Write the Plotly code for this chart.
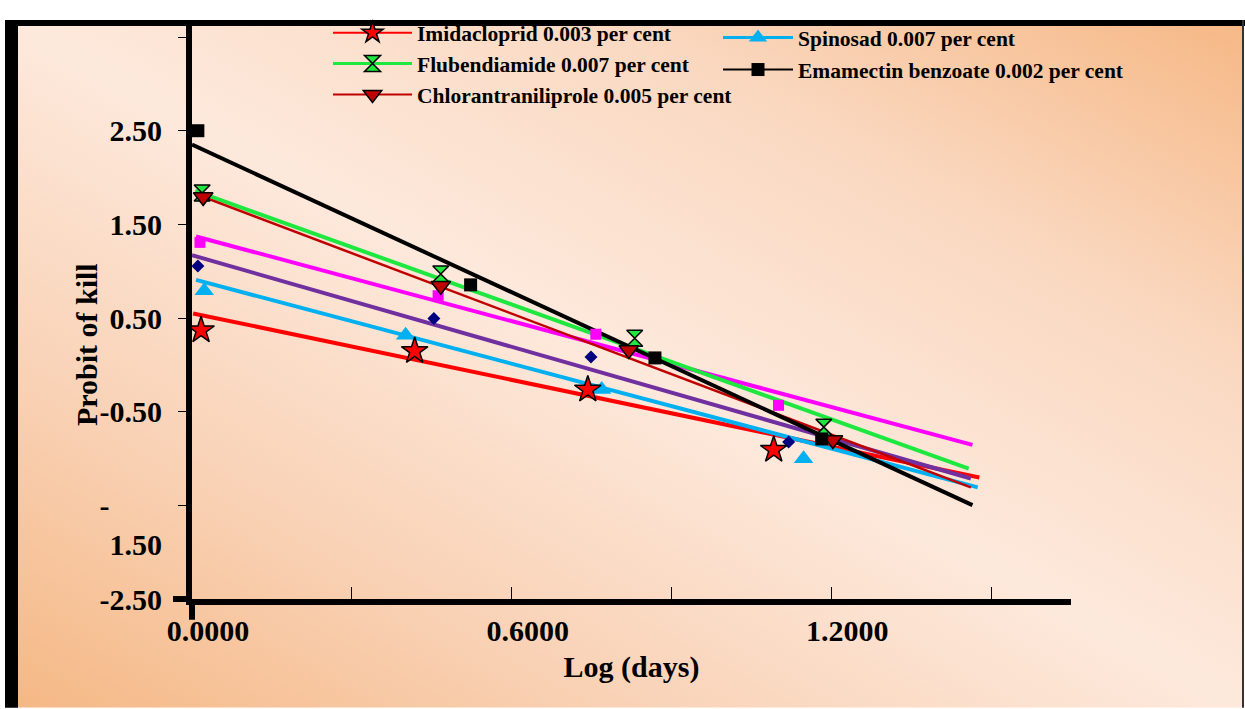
import base64
import plotly.graph_objects as go

# ---------------- data ----------------
imid_x = [0.017, 0.418, 0.743, 1.092]
imid_y = [0.369, 0.148, -0.264, -0.907]
flub_x = [0.019, 0.467, 0.831, 1.186]
flub_y = [1.835, 0.970, 0.285, -0.665]
chlor_x = [0.021, 0.467, 0.820, 1.203]
chlor_y = [1.793, 0.844, 0.158, -0.802]
spin_x = [0.023, 0.401, 0.769, 1.148]
spin_y = [0.791, 0.316, -0.264, -1.002]
emam_x = [0.011, 0.523, 0.869, 1.182]
emam_y = [2.500, 0.854, 0.074, -0.791]
mag_x = [0.015, 0.462, 0.758, 1.101]
mag_y = [1.308, 0.738, 0.327, -0.432]
navy_x = [0.011, 0.454, 0.749, 1.120]
navy_y = [1.055, 0.496, 0.084, -0.823]

# fitted (trend) lines: start and end points
fit_red_x = [0.002, 1.478];   fit_red_y = [0.549, -1.203]
fit_blue_x = [0.0075, 1.475]; fit_blue_y = [0.907, -1.308]
fit_purple_x = [0.0, 1.462];  fit_purple_y = [1.171, -1.213]
fit_mag_x = [0.0075, 1.465];  fit_mag_y = [1.371, -0.854]
fit_green_x = [0.006, 1.458]; fit_green_y = [1.857, -1.108]
fit_dred_x = [0.006, 1.462];  fit_dred_y = [1.825, -1.308]
fit_black_x = [0.0, 1.465];   fit_black_y = [2.352, -1.498]

y_tickvals = [3.5, 2.5, 1.5, 0.5, -0.5, -1.5, -2.5]
y_ticktext = ["", "2.50", "1.50", "0.50", "-0.50",
              "\u00a0<br>-" + "\u00a0" * 7 + "<br>1.50", "-2.50"]
x_tickvals = [0.0, 0.3, 0.6, 0.9, 1.2, 1.5]
x_ticktext = ["0.0000", "", "0.6000", "", "1.2000", ""]

# ---------------- colours ----------------
RED = "#ff0000"
GREEN = "#1ee840"
DRED = "#c00000"
BLUE = "#00b0f0"
MAG = "#ff00ff"
PURPLE = "#7030a0"
NAVY = "#000080"
BLACK = "#000000"

FONT = "Liberation Serif, Times New Roman, serif"

W, H = 1245, 709
L, R, T, B = 192, 174, 19, 110
PW, PH = W - L - R, H - T - B


def px_x(px):
    return (px - L) / PW


def px_y(py):
    return (H - B - py) / PH


fig = go.Figure()

# trend lines
for xs, ys, c, w in [
    (fit_red_x, fit_red_y, RED, 4),
    (fit_blue_x, fit_blue_y, BLUE, 4),
    (fit_purple_x, fit_purple_y, PURPLE, 4),
    (fit_mag_x, fit_mag_y, MAG, 4),
    (fit_green_x, fit_green_y, GREEN, 4),
    (fit_dred_x, fit_dred_y, DRED, 2.5),
    (fit_black_x, fit_black_y, BLACK, 4),
]:
    fig.add_trace(go.Scatter(x=xs, y=ys, mode="lines", line=dict(color=c, width=w),
                             showlegend=False, hoverinfo="skip"))

# observation markers (no legend)
obs = [
    ("Series 6", mag_x, mag_y, dict(symbol="square", color=MAG, size=11)),
    ("Series 7", navy_x, navy_y, dict(symbol="diamond", color=NAVY, size=10)),
    ("Spinosad 0.007 per cent", spin_x, spin_y, dict(symbol="triangle-up", color=BLUE, size=17)),
    ("Imidacloprid 0.003 per cent", imid_x, imid_y,
     dict(symbol="star", color=RED, size=20, line=dict(color=BLACK, width=1.5))),
    ("Flubendiamide 0.007 per cent", flub_x, flub_y,
     dict(symbol="hourglass", color=GREEN, size=16, line=dict(color=BLACK, width=1.5))),
    ("Chlorantraniliprole 0.005 per cent", chlor_x, chlor_y,
     dict(symbol="triangle-down", color=DRED, size=17, line=dict(color=BLACK, width=1.5))),
    ("Emamectin benzoate 0.002 per cent", emam_x, emam_y, dict(symbol="square", color=BLACK, size=13)),
]
for name, xs, ys, mk in obs:
    fig.add_trace(go.Scatter(x=xs, y=ys, mode="markers", marker=mk, name=name, showlegend=False))

# legend entries
leg1 = [
    ("Imidacloprid 0.003 per cent", RED, 2,
     dict(symbol="star", color=RED, size=20, line=dict(color=BLACK, width=1.5))),
    ("Flubendiamide 0.007 per cent", GREEN, 3,
     dict(symbol="hourglass", color=GREEN, size=16, line=dict(color=BLACK, width=1.5))),
    ("Chlorantraniliprole 0.005 per cent", DRED, 2,
     dict(symbol="triangle-down", color=DRED, size=17, line=dict(color=BLACK, width=1.5))),
]
leg2 = [
    ("Spinosad 0.007 per cent", BLUE, 3, dict(symbol="triangle-up", color=BLUE, size=17)),
    ("Emamectin benzoate 0.002 per cent", BLACK, 2, dict(symbol="square", color=BLACK, size=13)),
]
for i, (name, c, w, mk) in enumerate(leg1):
    fig.add_trace(go.Scatter(x=[None], y=[None], mode="lines+markers", name=name,
                             line=dict(color=c, width=w), marker=mk, legend="legend",
                             legendgroup="a%d" % i))
for i, (name, c, w, mk) in enumerate(leg2):
    fig.add_trace(go.Scatter(x=[None], y=[None], mode="lines+markers", name=name,
                             line=dict(color=c, width=w), marker=mk, legend="legend2",
                             legendgroup="b%d" % i))

# background gradient
svg = ('<svg xmlns="http://www.w3.org/2000/svg" width="100" height="100" viewBox="0 0 100 100" '
       'preserveAspectRatio="none"><defs><linearGradient id="g" x1="0" y1="1" x2="1" y2="0">'
       '<stop offset="0" stop-color="#f5b885"/>'
       '<stop offset="0.25" stop-color="#f9d2b6"/>'
       '<stop offset="0.5" stop-color="#fde9dc"/>'
       '<stop offset="0.75" stop-color="#fad8c0"/>'
       '<stop offset="1" stop-color="#f6b886"/>'
       '</linearGradient></defs><rect x="0" y="0" width="100" height="100" fill="url(#g)"/></svg>')
src = "data:image/svg+xml;base64," + base64.b64encode(svg.encode()).decode()

fig.add_layout_image(dict(source=src, xref="paper", yref="paper",
                          x=px_x(18), y=px_y(19), sizex=(1243 - 18) / PW, sizey=(H - 19) / PH,
                          xanchor="left", yanchor="top", sizing="stretch", layer="below"))

shapes = [
    # frame
    dict(type="rect", xref="paper", yref="paper", x0=px_x(5), x1=px_x(1245), y0=px_y(19), y1=px_y(13),
         fillcolor="black", line=dict(width=0)),
    dict(type="rect", xref="paper", yref="paper", x0=px_x(5), x1=px_x(18), y0=px_y(709), y1=px_y(13),
         fillcolor="black", line=dict(width=0)),
    dict(type="rect", xref="paper", yref="paper", x0=px_x(1242), x1=px_x(1244), y0=px_y(709), y1=px_y(13),
         fillcolor="#333333", line=dict(width=0)),
    # axis overhangs
    dict(type="line", xref="paper", yref="paper", x0=px_x(173), x1=0, y0=0, y1=0,
         line=dict(color="black", width=6)),
    dict(type="line", xref="paper", yref="paper", x0=0, x1=0, y0=0, y1=px_y(620),
         line=dict(color="black", width=6)),
]

fig.update_layout(
    width=W, height=H,
    margin=dict(l=L, r=R, t=T, b=B),
    paper_bgcolor="white",
    plot_bgcolor="rgba(0,0,0,0)",
    font=dict(family=FONT, color="black"),
    shapes=shapes,
    xaxis=dict(range=[0, 1.65], showgrid=False, zeroline=False, showline=True, linecolor="black",
               linewidth=6, ticks="inside", ticklen=12, tickwidth=1, tickcolor="black",
               tickvals=x_tickvals, ticktext=x_ticktext, ticklabelshift=16,
               tickfont=dict(family=FONT, size=30, weight="bold"),
               title=dict(text="Log (days)", font=dict(family=FONT, size=30, weight="bold"), standoff=12)),
    yaxis=dict(range=[-2.5, -2.5 + PH / 94.8], showgrid=False, zeroline=False, showline=True,
               linecolor="black", linewidth=6, ticks="outside", ticklen=8, tickwidth=1,
               tickcolor="black", tickvals=y_tickvals, ticktext=y_ticktext,
               ticklabelstandoff=10,
               tickfont=dict(family=FONT, size=30, weight="bold")),
    annotations=[dict(text="Probit of kill", xref="paper", yref="paper", x=px_x(86), y=px_y(342),
                      showarrow=False, textangle=-90, xanchor="center", yanchor="middle",
                      font=dict(family=FONT, size=30, weight="bold"))],
    legend=dict(x=px_x(328), y=px_y(5), xanchor="left", yanchor="top", bgcolor="rgba(0,0,0,0)",
                font=dict(family=FONT, size=21.5, weight="bold"), itemwidth=79,
                traceorder="grouped", tracegroupgap=0),
    legend2=dict(x=px_x(718), y=px_y(10), xanchor="left", yanchor="top", bgcolor="rgba(0,0,0,0)",
                 font=dict(family=FONT, size=21.5, weight="bold"), itemwidth=70,
                 traceorder="grouped", tracegroupgap=1),
)

fig.write_html("out.html", config={"displayModeBar": False},
               post_script="document.body.style.margin='0px';")
